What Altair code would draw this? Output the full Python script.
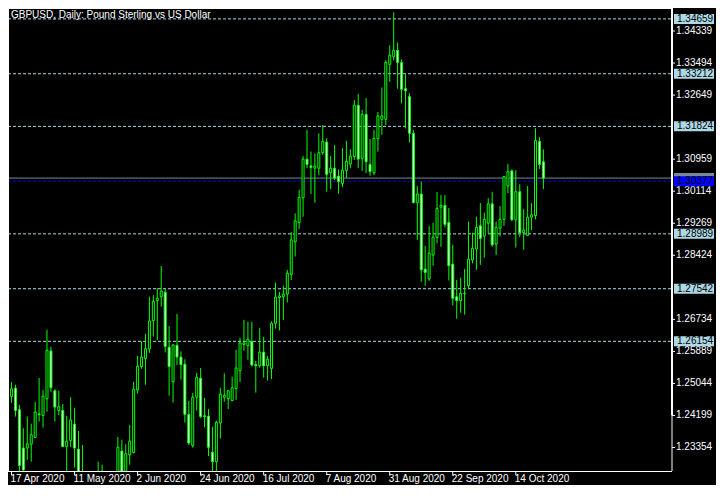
import altair as alt
import pandas as pd

# ---- data (GBPUSD daily, 17 Apr 2020 .. 23 Oct 2020) ----
open_ = [1.2470, 1.2492, 1.2435, 1.2334, 1.2334, 1.2344, 1.2362, 1.2424, 1.2420, 1.2464,
         1.2590, 1.2485, 1.2433, 1.2433, 1.2338, 1.2354, 1.2397, 1.2331, 1.2258, 1.2218,
         1.2205, 1.2120, 1.2230, 1.2225, 1.2240, 1.2200, 1.2180, 1.2210, 1.2326, 1.2259,
         1.2316, 1.2322, 1.2487, 1.2549, 1.2570, 1.2595, 1.2670, 1.2723, 1.2733, 1.2745,
         1.2600, 1.2509, 1.2605, 1.2574, 1.2555, 1.2423, 1.2340, 1.2468, 1.2518, 1.2419,
         1.2418, 1.2323, 1.2298, 1.2400, 1.2468, 1.2464, 1.2459, 1.2491, 1.2538, 1.2607,
         1.2604, 1.2615, 1.2554, 1.2551, 1.2587, 1.2551, 1.2544, 1.2663, 1.2731, 1.2733,
         1.2740, 1.2792, 1.2878, 1.2929, 1.2994, 1.3096, 1.3078, 1.3072, 1.3072, 1.3113,
         1.3141, 1.3060, 1.3072, 1.3051, 1.3032, 1.3066, 1.3083, 1.3103, 1.3238, 1.3098,
         1.3214, 1.3082, 1.3060, 1.3150, 1.3201, 1.3201, 1.3346, 1.3366, 1.3383, 1.3351,
         1.3282, 1.3261, 1.3164, 1.2981, 1.3004, 1.2806, 1.2780, 1.2843, 1.2889, 1.2969,
         1.2974, 1.2929, 1.2819, 1.2733, 1.2723, 1.2741, 1.2762, 1.2830, 1.2859, 1.2920,
         1.2893, 1.2927, 1.2978, 1.2872, 1.2914, 1.2937, 1.3025, 1.3065, 1.2936, 1.3010,
         1.2902, 1.2895, 1.2943, 1.2947, 1.3143, 1.3089]
high = [1.2508, 1.2501, 1.2448, 1.2386, 1.2417, 1.2398, 1.2456, 1.2519, 1.2487, 1.2646,
        1.2601, 1.2489, 1.2485, 1.2450, 1.2419, 1.2468, 1.2440, 1.2379, 1.2342, 1.2240,
        1.2230, 1.2245, 1.2298, 1.2290, 1.2245, 1.2220, 1.2240, 1.2363, 1.2356, 1.2344,
        1.2395, 1.2508, 1.2577, 1.2615, 1.2635, 1.2733, 1.2737, 1.2756, 1.2814, 1.2753,
        1.2656, 1.2608, 1.2688, 1.2589, 1.2568, 1.2458, 1.2479, 1.2532, 1.2545, 1.2466,
        1.2437, 1.2390, 1.2406, 1.2493, 1.2531, 1.2486, 1.2522, 1.2593, 1.2625, 1.2672,
        1.2667, 1.2667, 1.2564, 1.2651, 1.2627, 1.2577, 1.2668, 1.2770, 1.2746, 1.2762,
        1.2804, 1.2904, 1.2953, 1.3015, 1.3104, 1.3173, 1.3116, 1.3111, 1.3164, 1.3186,
        1.3151, 1.3104, 1.3133, 1.3069, 1.3125, 1.3144, 1.3122, 1.3252, 1.3268, 1.3226,
        1.3257, 1.3149, 1.3173, 1.3220, 1.3285, 1.3357, 1.3396, 1.3483, 1.3404, 1.3359,
        1.3320, 1.3270, 1.3173, 1.3025, 1.3037, 1.2867, 1.2920, 1.2928, 1.3009, 1.3001,
        1.3001, 1.2967, 1.2870, 1.2777, 1.2783, 1.2806, 1.2931, 1.2902, 1.2944, 1.2980,
        1.2955, 1.2993, 1.3010, 1.2931, 1.2972, 1.3052, 1.3083, 1.3069, 1.3067, 1.3030,
        1.2964, 1.3025, 1.2980, 1.3177, 1.3154, 1.3122]
low = [1.2453, 1.2417, 1.2245, 1.2275, 1.2303, 1.2298, 1.2360, 1.2404, 1.2388, 1.2430,
       1.2482, 1.2404, 1.2421, 1.2336, 1.2267, 1.2337, 1.2283, 1.2245, 1.2190, 1.2165,
       1.2100, 1.2080, 1.2165, 1.2200, 1.2180, 1.2160, 1.2175, 1.2190, 1.2240, 1.2249,
       1.2290, 1.2320, 1.2478, 1.2543, 1.2501, 1.2585, 1.2628, 1.2619, 1.2707, 1.2586,
       1.2472, 1.2454, 1.2553, 1.2514, 1.2401, 1.2342, 1.2335, 1.2433, 1.2413, 1.2389,
       1.2313, 1.2248, 1.2258, 1.2359, 1.2456, 1.2437, 1.2458, 1.2461, 1.2508, 1.2591,
       1.2567, 1.2549, 1.2480, 1.2546, 1.2520, 1.2512, 1.2516, 1.2649, 1.2644, 1.2672,
       1.2718, 1.2777, 1.2839, 1.2912, 1.2944, 1.3072, 1.3004, 1.2981, 1.3054, 1.3107,
       1.3010, 1.3017, 1.3041, 1.3005, 1.3022, 1.3046, 1.3072, 1.3094, 1.3072, 1.3065,
       1.3059, 1.3052, 1.3054, 1.3116, 1.3160, 1.3186, 1.3300, 1.3357, 1.3282, 1.3243,
       1.3177, 1.3140, 1.2980, 1.2883, 1.2773, 1.2762, 1.2775, 1.2815, 1.2874, 1.2865,
       1.2916, 1.2776, 1.2710, 1.2675, 1.2691, 1.2686, 1.2753, 1.2821, 1.2804, 1.2817,
       1.2836, 1.2900, 1.2865, 1.2843, 1.2892, 1.2920, 1.3006, 1.2932, 1.2863, 1.2890,
       1.2857, 1.2893, 1.2909, 1.2937, 1.3070, 1.3017]
close = [1.2490, 1.2433, 1.2288, 1.2276, 1.2345, 1.2369, 1.2429, 1.2422, 1.2471, 1.2592,
         1.2493, 1.2442, 1.2443, 1.2338, 1.2352, 1.2408, 1.2334, 1.2259, 1.2218, 1.2205,
         1.2125, 1.2230, 1.2225, 1.2240, 1.2200, 1.2175, 1.2205, 1.2336, 1.2259, 1.2319,
         1.2352, 1.2489, 1.2550, 1.2574, 1.2596, 1.2669, 1.2721, 1.2729, 1.2748, 1.2602,
         1.2549, 1.2606, 1.2574, 1.2554, 1.2423, 1.2347, 1.2468, 1.2521, 1.2417, 1.2417,
         1.2336, 1.2298, 1.2402, 1.2476, 1.2473, 1.2485, 1.2493, 1.2545, 1.2611, 1.2611,
         1.2621, 1.2553, 1.2551, 1.2587, 1.2551, 1.2568, 1.2663, 1.2732, 1.2735, 1.2740,
         1.2795, 1.2883, 1.2933, 1.2995, 1.3096, 1.3082, 1.3074, 1.3078, 1.3113, 1.3143,
         1.3056, 1.3072, 1.3046, 1.3037, 1.3067, 1.3090, 1.3104, 1.3238, 1.3096, 1.3214,
         1.3089, 1.3063, 1.3151, 1.3210, 1.3210, 1.3351, 1.3370, 1.3383, 1.3351, 1.3280,
         1.3276, 1.3164, 1.2981, 1.3004, 1.2804, 1.2797, 1.2848, 1.2890, 1.2966, 1.2974,
         1.2924, 1.2815, 1.2729, 1.2723, 1.2742, 1.2742, 1.2832, 1.2861, 1.2916, 1.2887,
         1.2937, 1.2978, 1.2870, 1.2916, 1.2937, 1.3050, 1.3063, 1.2936, 1.3010, 1.2902,
         1.2909, 1.2943, 1.2949, 1.3145, 1.3082, 1.3046]

tick_idx = [0, 16, 32, 48, 64, 80, 96, 112, 128]
tick_labels = ["17 Apr 2020", "11 May 2020", "2 Jun 2020", "24 Jun 2020", "16 Jul 2020",
               "7 Aug 2020", "31 Aug 2020", "22 Sep 2020", "14 Oct 2020"]
price_ticks = [1.34339, 1.33494, 1.32649, 1.30959, 1.30114, 1.29269, 1.28424,
               1.26734, 1.25889, 1.25044, 1.24199, 1.23354]
levels = [1.34659, 1.33212, 1.31824, 1.28989, 1.27542, 1.26154]
bid_price = 1.30377
title_text = "GBPUSD, Daily:  Pound Sterling vs US Dollar"

# ---- layout ----
W, H = 664, 463
FONT = "Liberation Sans"
GREEN = "#00ff00"
LBLUE = "#add8e6"
x_dom = [0.375, 166.375]
y_dom = [1.22734, 1.34946]
xs = alt.Scale(domain=x_dom, nice=False, zero=False)
ys = alt.Scale(domain=y_dom, nice=False, zero=False)

df = pd.DataFrame({"i": list(range(len(open_))), "open": open_, "high": high,
                   "low": low, "close": close})
one = pd.DataFrame({"a": [0]})
df_lv = pd.DataFrame({"p": levels, "label": [f"{v:.5f}" for v in levels]})
df_last = pd.DataFrame({"p": [close[-1]]})
df_bid = pd.DataFrame({"p": [bid_price], "label": [f"{bid_price:.5f}"]})
df_axis = pd.DataFrame({"p0": [y_dom[1], 1.2420], "p1": [1.2420, y_dom[0]], "w": [2, 1]})
df_pt = pd.DataFrame({"p": price_ticks, "label": [f"{v:.5f}" for v in price_ticks]})
df_dt = pd.DataFrame({"i": tick_idx, "label": tick_labels})

Y = lambda f: alt.Y(f, scale=ys, axis=None)
X = lambda f: alt.X(f, scale=xs, axis=None)

# frame
left_border = alt.Chart(one).mark_rule(color="white", strokeWidth=1).encode(
    x=alt.value(0.5), y=alt.value(0), y2=alt.value(H))
top_border = alt.Chart(one).mark_rule(color="white", strokeWidth=1).encode(
    x=alt.value(0), x2=alt.value(W), y=alt.value(0.5))
bottom_line = alt.Chart(one).mark_rule(color="white", strokeWidth=1).encode(
    x=alt.value(0), x2=alt.value(W), y=alt.value(H + 0.5))

level_lines = alt.Chart(df_lv).mark_rule(color=LBLUE, strokeWidth=1, strokeDash=[3, 2]).encode(
    y=Y("p:Q"), x=alt.value(0), x2=alt.value(W))
last_line = alt.Chart(df_last).mark_rule(color="#778899", strokeWidth=1).encode(
    y=Y("p:Q"), x=alt.value(0), x2=alt.value(W))
bid_line = alt.Chart(df_bid).mark_rule(color="#0000e0", strokeWidth=1, strokeDash=[3, 2]).encode(
    y=Y("p:Q"), x=alt.value(0), x2=alt.value(W))

wicks = alt.Chart(df).mark_rule(color=GREEN, strokeWidth=1, clip=True).encode(
    x=X("i:Q"), y=Y("low:Q"), y2=alt.Y2("high:Q"))
bodies = alt.Chart(df).mark_bar(stroke=GREEN, strokeWidth=1, size=2, clip=True).encode(
    x=X("i:Q"), y=Y("open:Q"), y2=alt.Y2("close:Q"),
    fill=alt.condition("datum.close < datum.open", alt.value("white"), alt.value("black")))

axis_line = alt.Chart(df_axis).mark_rule(color="white").encode(
    x=alt.value(W), y=Y("p0:Q"), y2=alt.Y2("p1:Q"),
    strokeWidth=alt.StrokeWidth("w:Q", scale=None, legend=None))

# price scale ticks and labels
p_ticks = alt.Chart(df_pt).mark_rule(color="white", strokeWidth=1).encode(
    y=Y("p:Q"), x=alt.value(W), x2=alt.value(W + 3))
p_labels = alt.Chart(df_pt).mark_text(align="left", baseline="middle", color="white",
                                      font=FONT, fontSize=10).encode(
    y=Y("p:Q"), x=alt.value(W + 4), text="label:N")

# date ticks and labels
d_ticks = alt.Chart(df_dt).mark_rule(color="white", strokeWidth=1).encode(
    x=X("i:Q"), y=alt.value(H), y2=alt.value(H + 4))
d_labels = alt.Chart(df_dt).mark_text(align="left", baseline="top", color="white",
                                      font=FONT, fontSize=10, dx=-1).encode(
    x=X("i:Q"), y=alt.value(H + 3), text="label:N")

lv_boxes = alt.Chart(df_lv).mark_rule(color=LBLUE, strokeWidth=10, strokeCap="butt").encode(
    y=Y("p:Q"), x=alt.value(W + 2), x2=alt.value(W + 42))
lv_text = alt.Chart(df_lv).mark_text(align="left", baseline="middle", color="black",
                                     font=FONT, fontSize=10).encode(
    y=Y("p:Q"), x=alt.value(W + 5), text="label:N")
last_box = alt.Chart(df_last).mark_rule(color="#778899", strokeWidth=10, strokeCap="butt").encode(
    y=Y("p:Q"), x=alt.value(W + 2), x2=alt.value(W + 42))
bid_box = alt.Chart(df_bid).mark_rule(color="#0000ff", strokeWidth=10, strokeCap="butt").encode(
    y=Y("p:Q"), x=alt.value(W + 2), x2=alt.value(W + 42))
bid_text = alt.Chart(df_bid).mark_text(align="left", baseline="middle", color="black",
                                       font=FONT, fontSize=10).encode(
    y=Y("p:Q"), x=alt.value(W + 5), text="label:N")

title = alt.Chart(one).mark_text(align="left", baseline="top", color="white",
                                 font=FONT, fontSize=10).encode(
    x=alt.value(3), y=alt.value(2), text=alt.value(title_text))

chart = alt.layer(
    level_lines, last_line, bid_line, wicks, bodies, left_border, top_border, bottom_line,
    axis_line, p_ticks, p_labels, d_ticks, d_labels,
    lv_boxes, lv_text, last_box, bid_box, bid_text, title
).properties(
    width=W, height=H,
    padding={"left": 0, "top": 0, "right": 44, "bottom": 14},
    autosize=alt.AutoSizeParams(type="none"),
    background="black",
).configure_view(stroke=None)

chart.save("out.html", embed_options={"renderer": "svg", "actions": False})
